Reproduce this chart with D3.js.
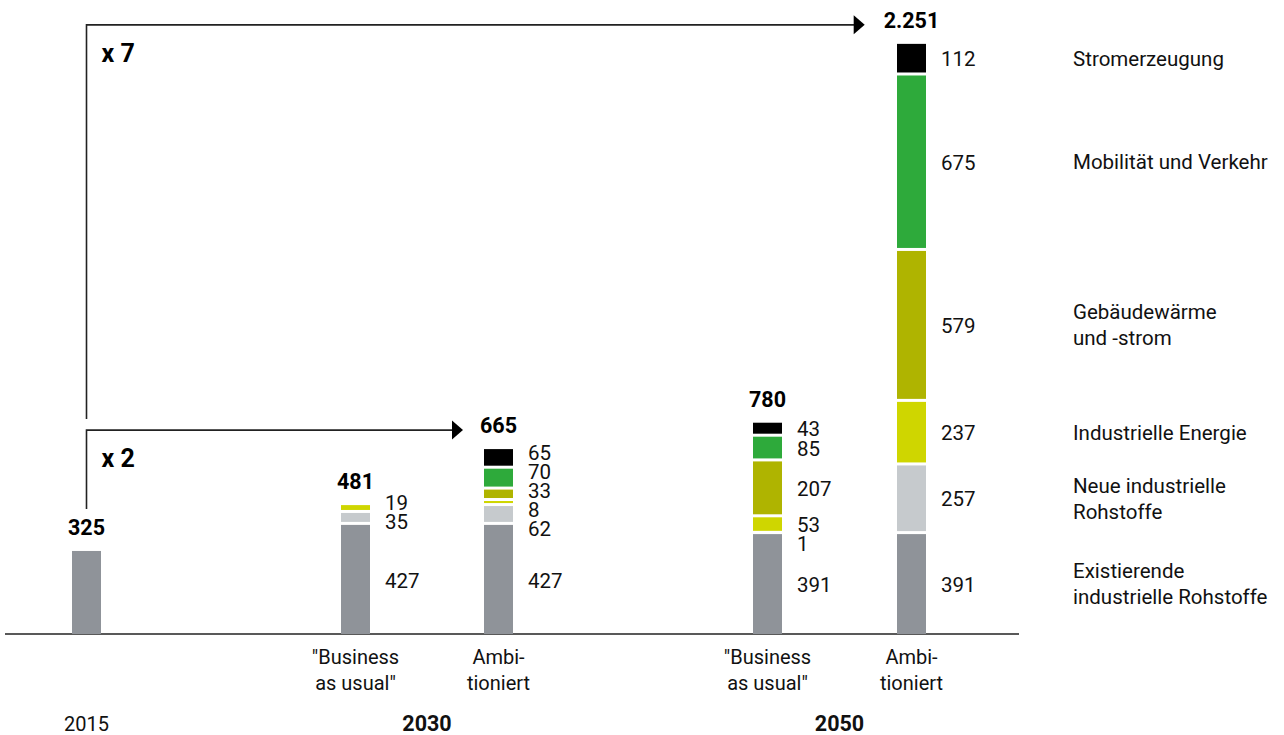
<!DOCTYPE html>
<html><head><meta charset="utf-8">
<script src="https://cdn.jsdelivr.net/npm/d3@7"></script>
<style>
body{margin:0;background:#fff;}
svg{display:block;font-family:Roboto, "Noto Sans", sans-serif;}
</style></head>
<body><svg id="c" width="1284" height="735"></svg>
<script>
// ---- data ----
const bars = ["2015", "BAU 2030", "Ambi 2030", "BAU 2050", "Ambi 2050"];
const barLabels = [[], ['"Business', 'as usual"'], ['Ambi-', 'tioniert'], ['"Business', 'as usual"'], ['Ambi-', 'tioniert']];
const years = ["2015", "2030", "2050"];
const series = ["Existierende industrielle Rohstoffe", "Neue industrielle Rohstoffe", "Industrielle Energie", "Gebäudewärme und -strom", "Mobilität und Verkehr", "Stromerzeugung"];
const legendLines = [["Existierende", "industrielle Rohstoffe"], ["Neue industrielle", "Rohstoffe"], ["Industrielle Energie"], ["Gebäudewärme", "und -strom"], ["Mobilität und Verkehr"], ["Stromerzeugung"]];
const existing   = [325, 427, 427, 391, 391];
const newRaw     = [0, 35, 62, 1, 257];
const indEnergy  = [0, 19, 8, 53, 237];
const buildings  = [0, 0, 33, 207, 579];
const mobility   = [0, 0, 70, 85, 675];
const power      = [0, 0, 65, 43, 112];
const multipliers = ["x 2", "x 7"];

const seriesValues = [existing, newRaw, indEnergy, buildings, mobility, power];
const colors = ["#8f9399", "#c6cacd", "#cfd600", "#afb400", "#2eaa3b", "#000000"];

const svg = d3.select("#c");
const base = 634;
const maxTotal = d3.max(bars.map((b, i) => d3.sum(seriesValues, s => s[i])));
const y = d3.scaleLinear().domain([0, maxTotal]).range([base, base - maxTotal * 0.2555]);
const x = d3.scaleOrdinal().domain(bars).range([86.5, 355.5, 498.5, 767.5, 911.5]);
const yearX = d3.scaleOrdinal().domain(years).range([86.5, 427, 839.5]);
const color = d3.scaleOrdinal().domain(series).range(colors);
const barW = 29, gap = 3, labelGap = 19;
const de = d3.formatLocale({decimal: ",", thousands: ".", grouping: [3], currency: ["", " €"]});
const fmt = de.format(",d");

// axis line
svg.append("line").attr("x1", 5).attr("x2", 1019).attr("y1", base).attr("y2", base)
  .attr("stroke", "#222").attr("stroke-width", 1.5);

const tops = {};
const lbls = {};
bars.forEach((b, bi) => {
  let cum = 0, k = 0;
  const segs = [];
  series.forEach((s, si) => {
    const v = seriesValues[si][bi];
    if (v <= 0) return;
    const bottom = y(cum) - gap * k;
    const top = y(cum + v) - gap * k;
    cum += v;
    if (v >= 2) {
      svg.append("rect").attr("x", x(b) - barW / 2).attr("width", barW)
        .attr("y", top).attr("height", bottom - top).attr("fill", color(s));
      k++;
    }
    segs.push({v, yc: (top + bottom) / 2, top});
  });
  const total = cum;
  const barTop = d3.min(segs, d => d.top);
  tops[b] = barTop;
  // total label
  const t = svg.append("text").attr("x", x(b)).attr("y", barTop - 16).attr("text-anchor", "middle")
    .attr("font-weight", 700).attr("font-size", 21.5).attr("fill", "#000").text(fmt(total));
  lbls[b] = t;
  // side labels (not for 2015)
  if (bi > 0) {
    const items = segs.slice().sort((a, c) => a.yc - c.yc);
    let clusters = [];
    items.forEach(it => {
      let c = {items: [it]};
      c.t = it.yc;
      clusters.push(c);
      while (clusters.length > 1) {
        const p = clusters[clusters.length - 2], q = clusters[clusters.length - 1];
        if (p.t + p.items.length * labelGap > q.t) {
          const m = {items: p.items.concat(q.items)};
          const W = d3.sum(m.items, d => d.v);
          m.t = d3.sum(m.items, (d, i) => d.v * (d.yc - i * labelGap)) / W;
          clusters.splice(clusters.length - 2, 2, m);
        } else break;
      }
    });
    clusters.forEach(c => c.items.forEach((it, i) => {
      svg.append("text").attr("x", x(b) + barW / 2 + 15).attr("y", c.t + i * labelGap)
        .attr("dy", "0.4em").attr("font-size", 20.5).attr("fill", "#111").text(it.v);
      it.ly = c.t + i * labelGap;
    }));
  }
  // category labels
  barLabels[bi].forEach((l, li) => {
    svg.append("text").attr("x", x(b)).attr("y", 664 + li * 26).attr("text-anchor", "middle")
      .attr("font-size", 20).attr("fill", "#111").text(l);
  });
  if (bi === 4) {
    segs.forEach((sg, si) => {
      const lines = legendLines[si];
      const ly = sg.ly;
      lines.forEach((ln, li) => {
        svg.append("text").attr("x", 1073).attr("y", ly + (li - (lines.length - 1) / 2) * 26)
          .attr("dy", "0.36em").attr("font-size", 20.5).attr("fill", "#111").text(ln);
      });
    });
  }
});

// year labels
years.forEach((yr, i) => {
  svg.append("text").attr("x", yearX(yr)).attr("y", 731).attr("text-anchor", "middle")
    .attr("font-size", i === 0 ? 20 : 21.5).attr("font-weight", i === 0 ? 400 : 700).attr("fill", "#111").text(yr);
});

// arrows
function arrow(x0, y0, yh, tipX, label) {
  svg.append("path").attr("d", `M${x0},${y0}V${yh}H${tipX - 9}`).attr("fill", "none")
    .attr("stroke", "#222").attr("stroke-width", 1.6);
  svg.append("path").attr("d", `M${tipX - 11},${yh - 9.5}L${tipX},${yh}L${tipX - 11},${yh + 9.5}Z`).attr("fill", "#000");
  svg.append("text").attr("x", x0 + 15).attr("y", yh + 37).attr("font-size", 25).attr("font-weight", 700)
    .attr("fill", "#000").text(label);
}
const bb2015 = lbls["2015"].node().getBBox();
const bbA30 = lbls["Ambi 2030"].node().getBBox();
const bbA50 = lbls["Ambi 2050"].node().getBBox();
const yh2 = tops["Ambi 2030"] - 19;
const yh7 = tops["Ambi 2050"] - 19;
arrow(x("2015"), bb2015.y - 6, yh2, bbA30.x - 17, multipliers[0]);
arrow(x("2015"), yh2 - 11, yh7, bbA50.x - 19, multipliers[1]);
</script></body></html>
